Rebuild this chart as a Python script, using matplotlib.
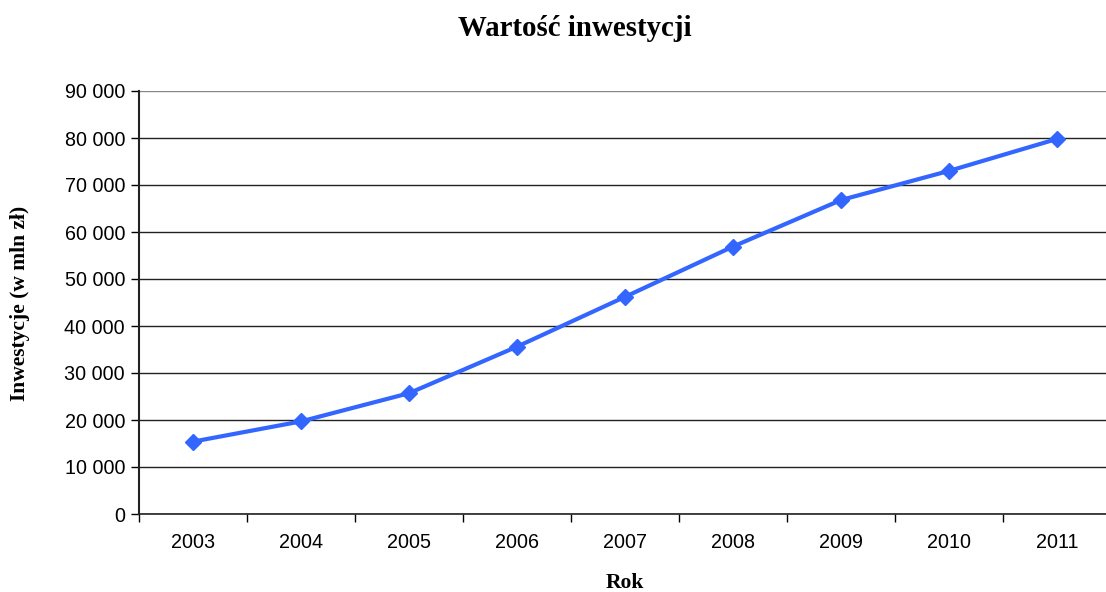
import matplotlib
matplotlib.use("Agg")
import matplotlib.pyplot as plt
from matplotlib.ticker import FuncFormatter, FixedLocator

years = ["2003", "2004", "2005", "2006", "2007", "2008", "2009", "2010", "2011"]
values = [15400, 19700, 25700, 35600, 46200, 56900, 66800, 73000, 79800]
y_ticks = [0, 10000, 20000, 30000, 40000, 50000, 60000, 70000, 80000, 90000]

W, H = 1106, 592
fig = plt.figure(figsize=(W / 100, H / 100), dpi=100)
left, right, top, bottom = 139, 1111, 91, 514
ax = fig.add_axes([left / W, 1 - bottom / H, (right - left) / W, (bottom - top) / H])

x = list(range(len(years)))
ax.plot(x, values, color="#3366FF", lw=3, marker="D", ms=8, mec="#3366FF", mfc="#3366FF",
        zorder=3, clip_on=False)

ax.set_xlim(-0.5, len(years) - 0.5)
ax.set_ylim(0, 90000)
ax.set_yticks(y_ticks)
ax.yaxis.set_major_formatter(FuncFormatter(lambda v, p: f"{int(v):,}".replace(",", " ")))
ax.set_xticks(x)
ax.set_xticklabels(years)
ax.xaxis.set_minor_locator(FixedLocator([i - 0.5 for i in range(len(years) + 1)]))
ax.tick_params(axis="x", which="major", length=0, pad=14)
ax.tick_params(axis="x", which="minor", length=6, width=1, direction="out")
ax.tick_params(axis="y", length=6, width=1, direction="out", pad=4)
for lab in ax.get_xticklabels() + ax.get_yticklabels():
    lab.set_fontfamily("Liberation Sans")
    lab.set_fontsize(14.2)

ax.grid(axis="y", color="#222222", lw=1, zorder=1)
for s in ["top", "right"]:
    ax.spines[s].set_visible(False)
ax.spines["left"].set_linewidth(1.5)
ax.spines["bottom"].set_linewidth(1.2)
ax.spines["left"].set_color("#222222")
ax.spines["bottom"].set_color("#222222")
ax.get_ygridlines()[-1].set_color("#888888")

fig.text(575 / W, 1 - 29 / H, "Wartość inwestycji", ha="center", va="center",
         fontfamily="Liberation Serif", fontweight="bold", fontsize=20.8)
fig.text(625 / W, 1 - 583 / H, "Rok", ha="center", va="center",
         fontfamily="Liberation Serif", fontweight="bold", fontsize=15.5)
fig.text(20 / W, 1 - 303 / H, "Inwestycje (w mln zł)", ha="center", va="center", rotation=90,
         fontfamily="Liberation Serif", fontweight="bold", fontsize=15.5)

fig.savefig("out.png", dpi=100)
